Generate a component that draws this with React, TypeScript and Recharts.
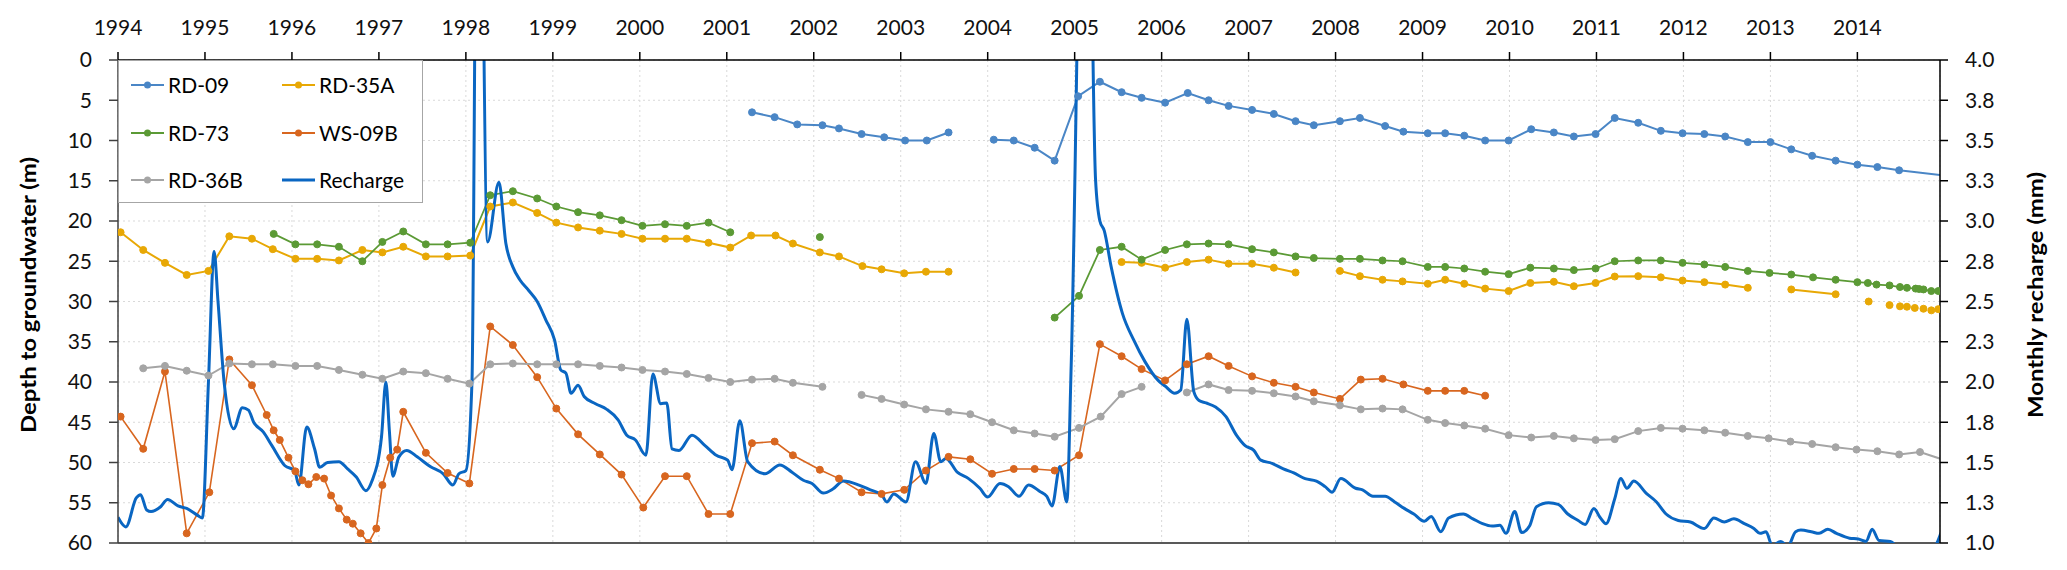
import React from 'react';
import { ComposedChart, Line, XAxis, YAxis, CartesianGrid, ReferenceLine, Legend } from 'recharts';

type Pt = [number, number | null];

const YEAR_TICKS = [1994, 1995, 1996, 1997, 1998, 1999, 2000, 2001, 2002, 2003, 2004, 2005, 2006, 2007, 2008, 2009, 2010, 2011, 2012, 2013, 2014];
const DEPTH_TICKS = [0, 5, 10, 15, 20, 25, 30, 35, 40, 45, 50, 55, 60];
const RECHARGE_TICKS = [1, 1.25, 1.5, 1.75, 2, 2.25, 2.5, 2.75, 3, 3.25, 3.5, 3.75, 4];

const RD09: Pt[] = [
  [2001.29, 6.5], [2001.55, 7.1], [2001.81, 8.0], [2002.10, 8.1], [2002.29, 8.5], [2002.55, 9.2], [2002.81, 9.6],
  [2003.05, 10.0], [2003.30, 10.0], [2003.55, 9.0], [2003.8, null],
  [2004.07, 9.9], [2004.30, 10.0], [2004.54, 10.9], [2004.77, 12.5], [2005.04, 4.5], [2005.29, 2.7], [2005.54, 4.0],
  [2005.77, 4.7], [2006.04, 5.3], [2006.30, 4.1], [2006.54, 5.0], [2006.77, 5.7], [2007.04, 6.2], [2007.29, 6.7],
  [2007.54, 7.6], [2007.75, 8.1], [2008.05, 7.6], [2008.28, 7.2], [2008.57, 8.2], [2008.78, 8.9], [2009.06, 9.1],
  [2009.26, 9.1], [2009.48, 9.4], [2009.72, 10.0], [2009.99, 10.0], [2010.25, 8.6], [2010.51, 9.0], [2010.74, 9.5],
  [2010.99, 9.2], [2011.21, 7.2], [2011.48, 7.8], [2011.74, 8.8], [2011.99, 9.1], [2012.24, 9.2], [2012.48, 9.5],
  [2012.74, 10.2], [2013.00, 10.2], [2013.24, 11.1], [2013.48, 11.9], [2013.75, 12.5], [2014.00, 13.0], [2014.23, 13.3],
  [2014.48, 13.7], [2015.05, 14.4],
];

const RD35A: Pt[] = [
  [1994.03, 21.4], [1994.29, 23.6], [1994.54, 25.2], [1994.79, 26.7], [1995.04, 26.2], [1995.28, 21.9], [1995.54, 22.2],
  [1995.78, 23.5], [1996.04, 24.7], [1996.29, 24.7], [1996.54, 24.9], [1996.81, 23.6], [1997.04, 23.9], [1997.28, 23.2],
  [1997.54, 24.4], [1997.79, 24.4], [1998.05, 24.3], [1998.28, 18.2], [1998.54, 17.7], [1998.82, 19.0], [1999.04, 20.2],
  [1999.29, 20.8], [1999.54, 21.2], [1999.79, 21.6], [2000.03, 22.2], [2000.29, 22.2], [2000.54, 22.2], [2000.79, 22.7],
  [2001.04, 23.3], [2001.28, 21.8], [2001.56, 21.8], [2001.76, 22.8], [2002.07, 23.9], [2002.29, 24.4], [2002.56, 25.6],
  [2002.78, 26.0], [2003.04, 26.5], [2003.29, 26.3], [2003.55, 26.3], [2004.5, null],
  [2005.54, 25.1], [2005.77, 25.2], [2006.04, 25.8], [2006.29, 25.1], [2006.54, 24.8], [2006.77, 25.3], [2007.04, 25.3],
  [2007.29, 25.8], [2007.54, 26.4], [2007.8, null],
  [2008.05, 26.2], [2008.28, 26.85], [2008.54, 27.3], [2008.77, 27.5], [2009.06, 27.8], [2009.26, 27.3], [2009.48, 27.8],
  [2009.72, 28.4], [2009.99, 28.7], [2010.24, 27.7], [2010.51, 27.55], [2010.74, 28.1], [2010.99, 27.7], [2011.21, 26.9],
  [2011.48, 26.85], [2011.74, 27.0], [2011.99, 27.4], [2012.24, 27.6], [2012.48, 27.9], [2012.74, 28.3], [2013.0, null],
  [2013.24, 28.5], [2013.75, 29.1], [2013.9, null], [2014.13, 30.0], [2014.3, null], [2014.37, 30.45], [2014.43, null],
  [2014.49, 30.6], [2014.53, null], [2014.57, 30.65], [2014.62, null], [2014.66, 30.8], [2014.71, null], [2014.76, 30.9],
  [2014.8, null], [2014.85, 31.1], [2014.89, null], [2014.93, 30.95],
];

const RD73: Pt[] = [
  [1995.79, 21.6], [1996.04, 22.9], [1996.29, 22.9], [1996.54, 23.2], [1996.81, 25.0], [1997.04, 22.6], [1997.28, 21.3],
  [1997.54, 22.9], [1997.79, 22.9], [1998.05, 22.7], [1998.28, 16.8], [1998.54, 16.3], [1998.82, 17.2], [1999.04, 18.2],
  [1999.29, 18.9], [1999.54, 19.3], [1999.79, 19.9], [2000.03, 20.6], [2000.29, 20.4], [2000.54, 20.6], [2000.79, 20.2],
  [2001.04, 21.4], [2001.5, null], [2002.07, 22.0], [2003.0, null],
  [2004.77, 32.0], [2005.05, 29.3], [2005.29, 23.6], [2005.54, 23.2], [2005.77, 24.8], [2006.04, 23.6], [2006.29, 22.9],
  [2006.54, 22.8], [2006.77, 22.9], [2007.04, 23.5], [2007.29, 23.9], [2007.54, 24.4], [2007.75, 24.6], [2008.05, 24.7],
  [2008.28, 24.7], [2008.54, 24.9], [2008.77, 25.0], [2009.06, 25.7], [2009.26, 25.7], [2009.48, 25.9], [2009.72, 26.3],
  [2009.99, 26.6], [2010.24, 25.8], [2010.51, 25.9], [2010.74, 26.1], [2010.99, 25.9], [2011.21, 25.0], [2011.48, 24.9],
  [2011.74, 24.9], [2011.99, 25.2], [2012.24, 25.4], [2012.48, 25.7], [2012.74, 26.2], [2012.99, 26.45], [2013.24, 26.65],
  [2013.49, 27.0], [2013.75, 27.3], [2014.00, 27.6], [2014.12, 27.7], [2014.22, 27.9], [2014.37, 28.0], [2014.49, 28.2],
  [2014.57, 28.3], [2014.67, 28.4], [2014.71, 28.45], [2014.76, 28.5], [2014.85, 28.7], [2014.93, 28.7],
];

const WS09B: Pt[] = [
  [1994.03, 44.3], [1994.29, 48.3], [1994.54, 38.7], [1994.79, 58.8], [1995.05, 53.7], [1995.28, 37.2], [1995.54, 40.4],
  [1995.71, 44.1], [1995.79, 46.0], [1995.86, 47.2], [1995.96, 49.4], [1996.04, 51.1], [1996.12, 52.2], [1996.19, 52.7],
  [1996.28, 51.8], [1996.37, 52.0], [1996.45, 54.1], [1996.54, 55.7], [1996.63, 57.1], [1996.70, 57.6], [1996.79, 58.8],
  [1996.88, 60.0], [1996.97, 58.2], [1997.04, 52.8], [1997.13, 49.4], [1997.21, 48.4], [1997.28, 43.7], [1997.54, 48.8],
  [1997.79, 51.3], [1998.04, 52.6], [1998.28, 33.1], [1998.54, 35.4], [1998.82, 39.4], [1999.04, 43.3], [1999.29, 46.5],
  [1999.54, 49.0], [1999.79, 51.5], [2000.04, 55.6], [2000.29, 51.7], [2000.54, 51.7], [2000.79, 56.4], [2001.04, 56.4],
  [2001.29, 47.6], [2001.55, 47.4], [2001.76, 49.1], [2002.07, 50.9], [2002.29, 52.0], [2002.55, 53.7], [2002.78, 53.9],
  [2003.04, 53.4], [2003.29, 51.0], [2003.55, 49.3], [2003.80, 49.6], [2004.05, 51.4], [2004.30, 50.8], [2004.54, 50.8],
  [2004.77, 51.0], [2005.05, 49.1], [2005.29, 35.3], [2005.54, 36.8], [2005.77, 38.4], [2006.04, 39.8], [2006.29, 37.8],
  [2006.54, 36.8], [2006.77, 38.0], [2007.04, 39.3], [2007.29, 40.1], [2007.54, 40.6], [2007.75, 41.3], [2008.05, 42.1],
  [2008.29, 39.7], [2008.54, 39.6], [2008.78, 40.3], [2009.06, 41.1], [2009.26, 41.1], [2009.48, 41.1], [2009.72, 41.7],
];

const RD36B: Pt[] = [
  [1994.29, 38.3], [1994.54, 38.0], [1994.79, 38.6], [1995.04, 39.2], [1995.28, 37.7], [1995.54, 37.8], [1995.78, 37.8],
  [1996.04, 38.0], [1996.29, 38.0], [1996.54, 38.5], [1996.81, 39.1], [1997.04, 39.6], [1997.28, 38.7], [1997.54, 38.9],
  [1997.79, 39.6], [1998.04, 40.2], [1998.28, 37.8], [1998.54, 37.7], [1998.82, 37.8], [1999.04, 37.8], [1999.29, 37.8],
  [1999.54, 38.0], [1999.79, 38.2], [2000.03, 38.5], [2000.29, 38.7], [2000.54, 39.0], [2000.79, 39.5], [2001.04, 40.0],
  [2001.29, 39.7], [2001.55, 39.6], [2001.76, 40.1], [2002.10, 40.6], [2002.3, null],
  [2002.55, 41.6], [2002.78, 42.1], [2003.04, 42.8], [2003.29, 43.4], [2003.55, 43.7], [2003.80, 44.0], [2004.05, 45.0],
  [2004.30, 46.0], [2004.54, 46.4], [2004.77, 46.8], [2005.05, 45.7], [2005.30, 44.3], [2005.54, 41.5], [2005.77, 40.6],
  [2006.0, null],
  [2006.29, 41.3], [2006.54, 40.3], [2006.77, 41.0], [2007.04, 41.1], [2007.29, 41.4], [2007.54, 41.8], [2007.75, 42.4],
  [2008.05, 42.9], [2008.29, 43.4], [2008.54, 43.3], [2008.77, 43.4], [2009.06, 44.7], [2009.26, 45.1], [2009.48, 45.4],
  [2009.72, 45.8], [2009.99, 46.6], [2010.25, 46.9], [2010.51, 46.7], [2010.74, 47.0], [2010.99, 47.2], [2011.21, 47.1],
  [2011.48, 46.1], [2011.74, 45.7], [2011.99, 45.8], [2012.24, 46.0], [2012.48, 46.3], [2012.74, 46.7], [2012.98, 47.0],
  [2013.23, 47.4], [2013.48, 47.7], [2013.75, 48.1], [2013.99, 48.4], [2014.23, 48.6], [2014.48, 49.0], [2014.72, 48.7],
  [2015.0, 49.7],
];

const RECHARGE: Pt[] = [
  [1994.00, 1.16], [1994.09, 1.10], [1994.21, 1.28], [1994.26, 1.30], [1994.33, 1.205], [1994.38, 1.195], [1994.49, 1.225],
  [1994.57, 1.27], [1994.69, 1.23], [1994.79, 1.215], [1994.92, 1.17], [1994.97, 1.155], [1995.04, 2.0], [1995.105, 2.81],
  [1995.15, 2.5], [1995.22, 2.0], [1995.33, 1.71], [1995.43, 1.84], [1995.50, 1.825], [1995.56, 1.75], [1995.67, 1.69],
  [1995.77, 1.605], [1995.92, 1.48], [1996.03, 1.45], [1996.08, 1.36], [1996.17, 1.72], [1996.26, 1.585], [1996.32, 1.47],
  [1996.41, 1.50], [1996.54, 1.505], [1996.64, 1.46], [1996.74, 1.41], [1996.85, 1.325], [1996.92, 1.385], [1997.03, 1.66],
  [1997.08, 2.0], [1997.12, 1.70], [1997.16, 1.415], [1997.23, 1.535], [1997.32, 1.575], [1997.44, 1.535], [1997.59, 1.475],
  [1997.74, 1.43], [1997.85, 1.36], [1997.92, 1.43], [1998.00, 1.45], [1998.07, 2.0], [1998.14, 6.5], [1998.25, 2.87],
  [1998.38, 3.24], [1998.46, 2.86], [1998.54, 2.715], [1998.62, 2.635], [1998.72, 2.57], [1998.82, 2.50], [1998.92, 2.385],
  [1999.02, 2.26], [1999.09, 2.075], [1999.15, 2.055], [1999.21, 1.93], [1999.29, 1.98], [1999.36, 1.91], [1999.49, 1.865],
  [1999.62, 1.83], [1999.75, 1.765], [1999.85, 1.67], [1999.95, 1.64], [2000.07, 1.545], [2000.15, 2.05], [2000.24, 1.865],
  [2000.31, 1.87], [2000.37, 1.585], [2000.45, 1.575], [2000.60, 1.67], [2000.75, 1.605], [2000.88, 1.545], [2001.01, 1.515],
  [2001.06, 1.455], [2001.15, 1.76], [2001.24, 1.505], [2001.44, 1.43], [2001.61, 1.485], [2001.75, 1.44], [2001.88, 1.39],
  [2001.98, 1.37], [2002.11, 1.31], [2002.22, 1.335], [2002.34, 1.385], [2002.52, 1.36], [2002.65, 1.33], [2002.78, 1.30],
  [2002.84, 1.255], [2002.92, 1.305], [2003.06, 1.255], [2003.17, 1.505], [2003.29, 1.37], [2003.38, 1.68], [2003.46, 1.505],
  [2003.52, 1.525], [2003.65, 1.44], [2003.78, 1.40], [2003.91, 1.34], [2004.00, 1.285], [2004.14, 1.37], [2004.24, 1.35],
  [2004.36, 1.29], [2004.47, 1.36], [2004.60, 1.32], [2004.68, 1.29], [2004.74, 1.23], [2004.83, 1.475], [2004.91, 1.255],
  [2004.96, 2.1], [2005.13, 6.5], [2005.24, 3.26], [2005.29, 3.0], [2005.34, 2.94], [2005.42, 2.715], [2005.55, 2.425],
  [2005.68, 2.26], [2005.81, 2.125], [2005.96, 2.01], [2006.04, 1.975], [2006.15, 1.93], [2006.22, 1.95], [2006.29, 2.39],
  [2006.37, 1.94], [2006.43, 1.885], [2006.51, 1.87], [2006.62, 1.845], [2006.74, 1.785], [2006.86, 1.67], [2006.96, 1.605],
  [2007.06, 1.575], [2007.14, 1.515], [2007.27, 1.495], [2007.40, 1.46], [2007.52, 1.435], [2007.65, 1.40], [2007.78, 1.385],
  [2007.88, 1.35], [2007.96, 1.315], [2008.06, 1.40], [2008.23, 1.34], [2008.31, 1.33], [2008.43, 1.29], [2008.57, 1.29],
  [2008.68, 1.255], [2008.79, 1.215], [2008.90, 1.18], [2009.02, 1.135], [2009.10, 1.165], [2009.21, 1.07], [2009.30, 1.155],
  [2009.47, 1.18], [2009.58, 1.15], [2009.69, 1.12], [2009.80, 1.105], [2009.89, 1.11], [2009.96, 1.06], [2010.06, 1.195],
  [2010.14, 1.065], [2010.23, 1.105], [2010.31, 1.225], [2010.45, 1.25], [2010.56, 1.24], [2010.67, 1.18], [2010.79, 1.14],
  [2010.87, 1.115], [2010.97, 1.215], [2011.04, 1.16], [2011.11, 1.12], [2011.21, 1.275], [2011.28, 1.40], [2011.35, 1.34],
  [2011.43, 1.385], [2011.57, 1.31], [2011.69, 1.255], [2011.80, 1.18], [2011.94, 1.14], [2012.08, 1.13], [2012.24, 1.09],
  [2012.35, 1.155], [2012.47, 1.13], [2012.58, 1.15], [2012.70, 1.12], [2012.81, 1.09], [2012.88, 1.06], [2012.95, 1.07],
  [2013.02, 0.985], [2013.12, 1.01], [2013.20, 0.98], [2013.29, 1.07], [2013.35, 1.08], [2013.47, 1.07], [2013.56, 1.06],
  [2013.66, 1.085], [2013.76, 1.06], [2013.91, 1.03], [2014.01, 1.025], [2014.10, 1.01], [2014.17, 1.085], [2014.25, 1.015],
  [2014.38, 1.01], [2014.44, 0.985], [2014.60, 0.95], [2014.80, 0.95], [2014.90, 0.985], [2014.96, 1.06], [2015.05, 1.2],
];

const toData = (pts: Pt[]) => pts.map(([x, y]) => ({ x, y }));

const WELLS = [
  { name: 'RD-09', color: '#4A86C6', width: 2, pts: RD09 },
  { name: 'RD-35A', color: '#E8A805', width: 2, pts: RD35A },
  { name: 'RD-73', color: '#5B9A35', width: 1.75, pts: RD73 },
  { name: 'WS-09B', color: '#D8661F', width: 1.6, pts: WS09B },
  { name: 'RD-36B', color: '#A5A5A5', width: 2, pts: RD36B },
];
const RECHARGE_COLOR = '#0A66C2';

const LEGEND_ORDER = ['RD-09', 'RD-35A', 'RD-73', 'WS-09B', 'RD-36B', 'Recharge'];

const FONT = 'Lato, "Open Sans", sans-serif';

const LeftTitle = () => {
  const cx = 19;
  const cy = 287;
  return (
    <text x={cx} y={cy} transform={`rotate(-90 ${cx} ${cy})`} textAnchor="middle" dominantBaseline="central"
      fontWeight="bold" fontSize={21} fill="#000" fontFamily={FONT} textLength={276} lengthAdjust="spacingAndGlyphs">
      Depth to groundwater (m)
    </text>
  );
};

const RightTitle = () => {
  const cx = 2026;
  const cy = 287;
  return (
    <text x={cx} y={cy} transform={`rotate(-90 ${cx} ${cy})`} textAnchor="middle" dominantBaseline="central"
      fontWeight="bold" fontSize={21} fill="#000" fontFamily={FONT} textLength={246} lengthAdjust="spacingAndGlyphs">
      Monthly recharge (mm)
    </text>
  );
};

const LegendBox = () => {
  const items = LEGEND_ORDER.map((name) => {
    const w = WELLS.find((s) => s.name === name);
    return { name, color: w ? w.color : RECHARGE_COLOR, isRecharge: !w };
  });
  return (
    <div style={{ position: 'relative', width: 305, height: 143, background: '#fff', border: '1px solid #a6a6a6',
      boxSizing: 'border-box', fontFamily: FONT, fontSize: 21, color: '#000' }}>
      {items.map((it, i) => {
        const col = i % 2;
        const row = Math.floor(i / 2);
        const left = col === 0 ? 12 : 163;
        const top = 24 + row * 47.5;
        return (
          <div key={it.name} style={{ position: 'absolute', left, top: top - 14, height: 28, display: 'flex', alignItems: 'center', whiteSpace: 'nowrap' }}>
            <svg width={33} height={12} style={{ marginRight: 4 }}>
              <line x1={0} y1={6} x2={33} y2={6} stroke={it.color} strokeWidth={it.isRecharge ? 3 : 2} />
              {!it.isRecharge && <circle cx={16.5} cy={6} r={3.5} fill={it.color} />}
            </svg>
            <span style={{ lineHeight: '28px' }}>{it.name}</span>
          </div>
        );
      })}
    </div>
  );
};

export default function App() {
  const tickStyle = { fontSize: 21, fill: '#111', fontFamily: FONT };
  return (
    <div style={{ width: 2051, height: 554, fontFamily: FONT }}>
      <ComposedChart width={2051} height={554} margin={{ top: 0, right: 0, bottom: 19, left: 0 }}>
        <CartesianGrid xAxisId="x" yAxisId="left" stroke="#d9d9d9" strokeDasharray="2 3" strokeWidth={1} />
        <XAxis xAxisId="x" type="number" dataKey="x" orientation="top" domain={[1994, 2014.95]} ticks={YEAR_TICKS}
          allowDataOverflow interval={0} height={52} tickSize={8} tickMargin={17}
          axisLine={{ stroke: '#000', strokeWidth: 1.5 }} tickLine={{ stroke: '#000', strokeWidth: 1.5 }} tick={tickStyle} />
        <YAxis yAxisId="left" type="number" reversed domain={[0, 60]} ticks={DEPTH_TICKS} allowDataOverflow interval={0}
          width={110} tickSize={9} tickMargin={17}
          axisLine={{ stroke: '#404040', strokeWidth: 1.5 }} tickLine={{ stroke: '#404040', strokeWidth: 1.5 }} tick={tickStyle}
          label={<LeftTitle />} />
        <YAxis yAxisId="right" type="number" orientation="right" domain={[1, 4]} ticks={RECHARGE_TICKS} allowDataOverflow
          interval={0} width={119} tickSize={8} tickMargin={17} tickFormatter={(v: number) => v.toFixed(1)}
          axisLine={{ stroke: '#000', strokeWidth: 1.5 }} tickLine={{ stroke: '#000', strokeWidth: 1.5 }} tick={tickStyle}
          label={<RightTitle />} />
        <ReferenceLine xAxisId="x" yAxisId="left" y={60} stroke="#595959" strokeWidth={2} />
        {WELLS.map((s) => (
          <Line key={s.name} xAxisId="x" yAxisId="left" data={toData(s.pts)} dataKey="y" name={s.name} type="linear"
            stroke={s.color} strokeWidth={s.width} connectNulls={false} isAnimationActive={false}
            dot={{ r: 3.5, fill: s.color, stroke: s.color, strokeWidth: 1 }} activeDot={false} />
        ))}
        <Line xAxisId="x" yAxisId="right" data={toData(RECHARGE)} dataKey="y" name="Recharge" type="monotone"
          stroke={RECHARGE_COLOR} strokeWidth={3} dot={false} activeDot={false} isAnimationActive={false} />
        <Legend layout="vertical" align="center" verticalAlign="middle" content={() => <LegendBox />}
          wrapperStyle={{ left: 110, top: 52, width: 305, height: 143 }} />
      </ComposedChart>
    </div>
  );
}
